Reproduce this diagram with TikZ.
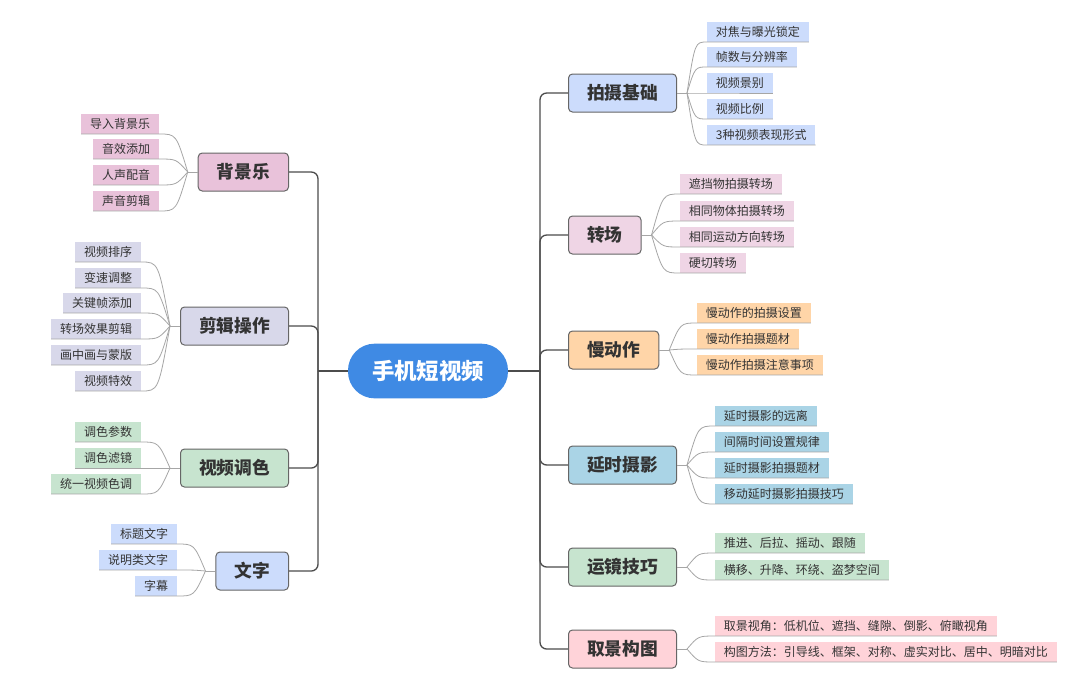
\documentclass[tikz,border=0pt]{standalone}
\usepackage{fontspec}
\setmainfont{Noto Sans CJK SC}
\usetikzlibrary{calc}
\definecolor{hubblue}{HTML}{3F8AE4}
\definecolor{cblue}{HTML}{CCDCFC}
\definecolor{cmauve}{HTML}{EFD5E5}
\definecolor{corange}{HTML}{FFD5A8}
\definecolor{cteal}{HTML}{AAD4E6}
\definecolor{cgreen}{HTML}{C7E4CF}
\definecolor{crose}{HTML}{FFD3D9}
\definecolor{cpink}{HTML}{E9C2DA}
\definecolor{clilac}{HTML}{D8D8EA}
\tikzset{%
   hub/.style={
      fill=hubblue,
      text=white,
      rounded corners=20pt,
      minimum height=41pt,
      inner xsep=18pt,
      font=\fontsize{16.8}{18}\selectfont\bfseries
   },
   topic/.style={
      draw=black!60,
      line width=0.75pt,
      rounded corners=3pt,
      minimum height=28.5pt,
      inner xsep=13.9pt,
      text=black!80,
      font=\fontsize{13.3}{15}\selectfont\bfseries
   },
   leaf/.style={
      inner xsep=6.5pt,
      inner ysep=0pt,
      minimum height=14.6pt,
      text=black!80,
      font=\fontsize{9}{10}\selectfont
   },
   trunk/.style={
      draw=black!70,
      line width=1pt,
      rounded corners=5pt
   },
   twig/.style={
      draw=black!35,
      line width=0.6pt
   },
}
% leaves on the right: name, fan, left x, colour, text/bottom list
\newcommand\branchr[5]{%
  \foreach \txt/\yy [count=\i] in {#5} {
    \node[leaf, fill=#4, anchor=south west] (#1-\i) at (#3,\yy) {\txt};
    \draw[twig] let \p1=(#2), \p2=(#1-\i.south west) in
      (\p1) .. controls ({\x1+.4*(\x2-\x1)},\y2) .. (\p2) -- (#1-\i.south east);
  }%
}
% leaves on the left: name, fan, right x, colour, text/bottom list
\newcommand\branchl[5]{%
  \foreach \txt/\yy [count=\i] in {#5} {
    \node[leaf, fill=#4, anchor=south east] (#1-\i) at (#3,\yy) {\txt};
    \draw[twig] let \p1=(#2), \p2=(#1-\i.south east) in
      (\p1) .. controls ({\x1+.4*(\x2-\x1)},\y2) .. (\p2) -- (#1-\i.south west);
  }%
}
\begin{document}
\begin{tikzpicture}[x=0.75pt, y=-0.75pt]
   \useasboundingbox[fill=white] (0,0) rectangle (1080,694);
   \node[hub] (c) at (428,371) {手机短视频};
   \coordinate (rt) at (540,371);
   \coordinate (lt) at (318,371);
   \draw[trunk] (c.east) -- (rt);
   \draw[trunk] (c.west) -- (lt);
   % main topics
   \node[topic, fill=cblue, anchor=west] (b1) at (568,93) {拍摄基础};
   \node[topic, fill=cmauve, anchor=west] (b2) at (568,235) {转场};
   \node[topic, fill=corange, anchor=west] (b3) at (568,350) {慢动作};
   \node[topic, fill=cteal, anchor=west] (b4) at (568,465) {延时摄影};
   \node[topic, fill=cgreen, anchor=west] (b5) at (568,567) {运镜技巧};
   \node[topic, fill=crose, anchor=west] (b6) at (568,649) {取景构图};
   \node[topic, fill=cpink, anchor=east] (l1) at (289,172) {背景乐};
   \node[topic, fill=clilac, anchor=east] (l2) at (289,326) {剪辑操作};
   \node[topic, fill=cgreen, anchor=east] (l3) at (289,468) {视频调色};
   \node[topic, fill=cblue, anchor=east] (l4) at (289,571) {文字};
   \foreach \n in {b1,b2,b3,b4,b5,b6} {
      \draw[trunk] (rt) |- (\n.west);
      \coordinate (\n f) at ([xshift=7.5pt]\n.east);
      \draw[twig] (\n.east) -- (\n f);
   }
   \foreach \n in {l1,l2,l3,l4} {
      \draw[trunk] (lt) |- (\n.east);
      \coordinate (\n f) at ([xshift=-7.5pt]\n.west);
      \draw[twig] (\n.west) -- (\n f);
   }
   % right leaves
   \branchr{b1}{b1f}{707}{cblue}{对焦与曝光锁定/42, 帧数与分辨率/67, 视频景别/93,
      视频比例/119, 3种视频表现形式/145}
   \branchr{b2}{b2f}{680}{cmauve}{遮挡物拍摄转场/194, 相同物体拍摄转场/221,
      相同运动方向转场/247, 硬切转场/273}
   \branchr{b3}{b3f}{697}{corange}{慢动作的拍摄设置/323, 慢动作拍摄题材/349,
      慢动作拍摄注意事项/375}
   \branchr{b4}{b4f}{715}{cteal}{延时摄影的远离/426, 间隔时间设置规律/452,
      延时摄影拍摄题材/478, 移动延时摄影拍摄技巧/504}
   \branchr{b5}{b5f}{715}{cgreen}{推进、后拉、摇动、跟随/553, 横移、升降、环绕、盗梦空间/580}
   \branchr{b6}{b6f}{715}{crose}{取景视角：低机位、遮挡、缝隙、倒影、俯瞰视角/636,
      构图方法：引导线、框架、对称、虚实对比、居中、明暗对比/662}
   % left leaves
   \branchl{l1}{l1f}{159}{cpink}{导入背景乐/134, 音效添加/159, 人声配音/185, 声音剪辑/211}
   \branchl{l2}{l2f}{141}{clilac}{视频排序/262, 变速调整/288, 关键帧添加/313,
      转场效果剪辑/339, 画中画与蒙版/365, 视频特效/391}
   \branchl{l3}{l3f}{141}{cgreen}{调色参数/442, 调色滤镜/468, 统一视频色调/494}
   \branchl{l4}{l4f}{177}{cblue}{标题文字/544, 说明类文字/570, 字幕/596}
\end{tikzpicture}
\end{document}
